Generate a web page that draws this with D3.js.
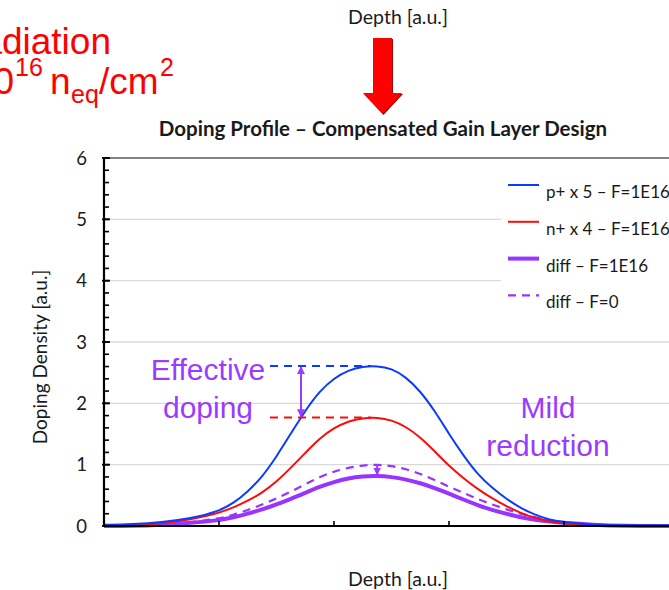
<!DOCTYPE html>
<html lang="en">
<head>
  <meta charset="utf-8">
  <title>Doping Profile</title>
  <script src="https://cdn.jsdelivr.net/npm/d3@7"></script>
  <style>
    body { margin: 0; background: #fff; }
    svg { display: block; }
    .cal { font-family: Lato, "Open Sans", sans-serif; fill: #1a1a1a; }
    .ari { font-family: "Liberation Sans", Arial, sans-serif; }
  </style>
</head>
<body>
<div id="chart"></div>
<script>
  // depth grid (a.u.) shared by all curves
  var depth = [0, 0.25, 0.5, 0.75, 1.0, 1.125, 1.25, 1.375, 1.5, 1.625, 1.75, 1.875, 2.0, 2.125, 2.25, 2.375,
    2.5, 2.625, 2.75, 2.875, 3.0, 3.125, 3.25, 3.375, 3.5, 3.625, 3.75, 3.875, 4.0, 4.25, 4.5, 5.0];

  var pPlus = [0.02, 0.03, 0.06, 0.12, 0.24, 0.37, 0.56, 0.80, 1.13, 1.51, 1.88, 2.20, 2.41, 2.54, 2.60, 2.61,
    2.57, 2.43, 2.20, 1.88, 1.50, 1.15, 0.84, 0.62, 0.44, 0.29, 0.18, 0.10, 0.06, 0.02, 0.01, 0.01];
  var nPlus = [0.01, 0.02, 0.04, 0.10, 0.21, 0.30, 0.41, 0.54, 0.72, 0.95, 1.19, 1.43, 1.60, 1.71, 1.76, 1.77,
    1.73, 1.62, 1.45, 1.22, 0.98, 0.78, 0.60, 0.45, 0.32, 0.21, 0.13, 0.07, 0.04, 0.01, 0.0, 0.0];
  var diffIrr = [0.0, 0.0, 0.02, 0.05, 0.09, 0.14, 0.20, 0.27, 0.35, 0.44, 0.54, 0.64, 0.72, 0.78, 0.81, 0.82,
    0.80, 0.76, 0.70, 0.62, 0.53, 0.43, 0.34, 0.26, 0.20, 0.14, 0.10, 0.07, 0.05, 0.02, 0.0, 0.0];
  var diffNew = [0.0, 0.0, 0.02, 0.06, 0.12, 0.18, 0.26, 0.35, 0.45, 0.56, 0.68, 0.80, 0.89, 0.95, 0.99, 1.0,
    0.98, 0.93, 0.85, 0.75, 0.64, 0.54, 0.44, 0.35, 0.27, 0.20, 0.14, 0.09, 0.05, 0.02, 0.0, 0.0];

  var seriesNames = ["p+ x 5 \u2013 F=1E16", "n+ x 4 \u2013 F=1E16", "diff \u2013 F=1E16", "diff \u2013 F=0"];
  var yTicks = [0, 1, 2, 3, 4, 5, 6];
  var xTicks = [0, 1, 2, 3, 4, 5];

  var series = [
    { name: seriesNames[0], values: pPlus, color: "#0a3cff", width: 2, dash: null },
    { name: seriesNames[1], values: nPlus, color: "#ff0a0a", width: 2, dash: null },
    { name: seriesNames[2], values: diffIrr, color: "#9933ff", width: 4, dash: null },
    { name: seriesNames[3], values: diffNew, color: "#9933ff", width: 2.2, dash: "8,6" }
  ];

  var W = 669, H = 590;
  var purple = "#9a3cff";

  var svg = d3.select("#chart").append("svg")
    .attr("width", W).attr("height", H);

  var x = d3.scaleLinear().domain([0, 5]).range([104, 679]);
  var y = d3.scaleLinear().domain([0, 6]).range([526, 158]);

  // gridlines
  svg.append("g").selectAll("line")
    .data(yTicks.filter(function (d) { return d > 0 && d < 6; }))
    .enter().append("line")
    .attr("x1", x(0)).attr("x2", W)
    .attr("y1", function (d) { return y(d); })
    .attr("y2", function (d) { return y(d); })
    .style("stroke", "#d9d9d9").style("stroke-width", 1.3);

  // top border
  svg.append("line")
    .attr("x1", x(0)).attr("x2", W).attr("y1", y(6)).attr("y2", y(6))
    .style("stroke", "#595959").style("stroke-width", 1.5);

  // legend background hides gridlines
  svg.append("rect")
    .attr("x", 501).attr("y", 166).attr("width", 170).attr("height", 152)
    .style("fill", "#fff");

  // curves
  var line = d3.line()
    .x(function (d, i) { return x(depth[i]); })
    .y(function (d) { return y(d); })
    .curve(d3.curveBasis);

  var drawOrder = [3, 2, 1, 0];
  drawOrder.forEach(function (k) {
    var s = series[k];
    svg.append("path")
      .datum(s.values)
      .attr("d", line)
      .style("fill", "none")
      .style("stroke", s.color)
      .style("stroke-width", s.width)
      .style("stroke-dasharray", s.dash);
  });

  // axes
  var yAxis = svg.append("g");
  yAxis.append("line")
    .attr("x1", x(0)).attr("x2", x(0)).attr("y1", y(6) - 1).attr("y2", y(0))
    .style("stroke", "#000").style("stroke-width", 2.2);
  yAxis.selectAll(".minor")
    .data(d3.range(0, 6.01, 0.2))
    .enter().append("line")
    .attr("x1", x(0)).attr("x2", x(0) + 5)
    .attr("y1", function (d) { return y(d); })
    .attr("y2", function (d) { return y(d); })
    .style("stroke", "#000").style("stroke-width", 1.6);
  yAxis.selectAll(".major")
    .data(yTicks)
    .enter().append("line")
    .attr("x1", x(0) - 2).attr("x2", x(0) + 6)
    .attr("y1", function (d) { return y(d); })
    .attr("y2", function (d) { return y(d); })
    .style("stroke", "#000").style("stroke-width", 1.8);
  yAxis.selectAll("text")
    .data(yTicks)
    .enter().append("text")
    .attr("class", "cal")
    .attr("x", 87)
    .attr("y", function (d) { return y(d) + 6.5; })
    .attr("text-anchor", "end")
    .style("font-size", "18.5px")
    .text(function (d) { return d; });

  svg.append("g").selectAll("line")
    .data(xTicks)
    .enter().append("line")
    .attr("x1", function (d) { return x(d); })
    .attr("x2", function (d) { return x(d); })
    .attr("y1", y(0)).attr("y2", y(0) - 5)
    .style("stroke", "#000").style("stroke-width", 1.6);
  svg.append("line")
    .attr("x1", x(0) - 1).attr("x2", W).attr("y1", y(0)).attr("y2", y(0))
    .style("stroke", "#000").style("stroke-width", 2.2);

  // axis titles
  svg.append("text").attr("class", "cal")
    .attr("transform", "translate(47,357) rotate(-90)")
    .attr("text-anchor", "middle")
    .style("font-size", "19px")
    .text("Doping Density [a.u.]");
  svg.append("text").attr("class", "cal")
    .attr("x", 398).attr("y", 586).attr("text-anchor", "middle")
    .style("font-size", "19.5px")
    .text("Depth [a.u.]");
  svg.append("text").attr("class", "cal")
    .attr("x", 398).attr("y", 24).attr("text-anchor", "middle")
    .style("font-size", "19.5px")
    .text("Depth [a.u.]");

  // title
  svg.append("text").attr("class", "cal")
    .attr("x", 383).attr("y", 136).attr("text-anchor", "middle")
    .style("font-size", "20.5px").style("font-weight", "bold")
    .text("Doping Profile \u2013 Compensated Gain Layer Design");

  // red block arrow
  var arrowPts = [[373, 38], [392, 38], [392, 93], [402, 93], [382.5, 114], [363, 93], [373, 93]];
  svg.append("polygon")
    .attr("points", arrowPts.map(function (p) { return (p[0] + 1) + "," + (p[1] + 1); }).join(" "))
    .style("fill", "#a00000");
  svg.append("polygon")
    .attr("points", arrowPts.map(function (p) { return p.join(","); }).join(" "))
    .style("fill", "#ff0000");

  // irradiation label (cut at the left edge)
  var red = svg.append("g").attr("class", "ari").style("fill", "#ff0000");
  red.append("text").attr("x", 111).attr("y", 54).attr("text-anchor", "end")
    .style("font-size", "37px").text("Irradiation");
  red.append("text").attr("x", 14).attr("y", 94).attr("text-anchor", "end")
    .style("font-size", "37px").text("1\u00b710");
  red.append("text").attr("x", 15).attr("y", 76).style("font-size", "25px").text("16");
  red.append("text").attr("x", 50).attr("y", 94).style("font-size", "37px").text("n");
  red.append("text").attr("x", 71).attr("y", 103).style("font-size", "25px").text("eq");
  red.append("text").attr("x", 99).attr("y", 94).style("font-size", "37px").text("/cm");
  red.append("text").attr("x", 160).attr("y", 76).style("font-size", "25px").text("2");

  // legend
  var leg = svg.append("g").selectAll("g")
    .data(series)
    .enter().append("g")
    .attr("transform", function (d, i) { return "translate(508," + (185 + i * 36.8) + ")"; });
  leg.append("line")
    .attr("x1", 0).attr("x2", 31).attr("y1", 0).attr("y2", 0)
    .style("stroke", function (d) { return d.color; })
    .style("stroke-width", function (d) { return d.width; })
    .style("stroke-dasharray", function (d) { return d.dash; });
  leg.append("text").attr("class", "cal")
    .attr("x", 38).attr("y", 13)
    .style("font-size", "17px")
    .text(function (d) { return d.name; });

  // annotations
  var peakP = d3.max(pPlus), peakN = d3.max(nPlus);
  var peakD = d3.max(diffIrr), peakD0 = d3.max(diffNew);
  var peakX = depth[pPlus.indexOf(peakP)];

  svg.append("line")
    .attr("x1", 270).attr("x2", x(peakX) - 6).attr("y1", y(peakP)).attr("y2", y(peakP))
    .style("stroke", "#0a3cff").style("stroke-width", 2).style("stroke-dasharray", "8,6");
  svg.append("line")
    .attr("x1", 270).attr("x2", x(peakX) - 6).attr("y1", y(peakN)).attr("y2", y(peakN))
    .style("stroke", "#ff0a0a").style("stroke-width", 2).style("stroke-dasharray", "8,6");

  var defs = svg.append("defs");
  defs.append("marker")
    .attr("id", "ah").attr("viewBox", "0 0 10 10")
    .attr("refX", 9).attr("refY", 5)
    .attr("markerWidth", 4).attr("markerHeight", 4)
    .attr("orient", "auto-start-reverse")
    .append("path").attr("d", "M0,0 L10,5 L0,10 Z").style("fill", purple);

  svg.append("line")
    .attr("x1", 301).attr("x2", 301).attr("y1", y(peakP) + 1).attr("y2", y(peakN) - 1)
    .style("stroke", purple).style("stroke-width", 2)
    .attr("marker-start", "url(#ah)").attr("marker-end", "url(#ah)");
  svg.append("line")
    .attr("x1", x(peakX)).attr("x2", x(peakX)).attr("y1", y(peakD0)).attr("y2", y(peakD) - 1)
    .style("stroke", purple).style("stroke-width", 2)
    .attr("marker-end", "url(#ah)");

  var ann = svg.append("g").attr("class", "ari").style("fill", purple)
    .style("font-size", "30px").attr("text-anchor", "middle");
  ann.append("text").attr("x", 208).attr("y", 380).text("Effective");
  ann.append("text").attr("x", 208).attr("y", 418).text("doping");
  ann.append("text").attr("x", 548).attr("y", 418).text("Mild");
  ann.append("text").attr("x", 548).attr("y", 456).text("reduction");
</script>
</body>
</html>
